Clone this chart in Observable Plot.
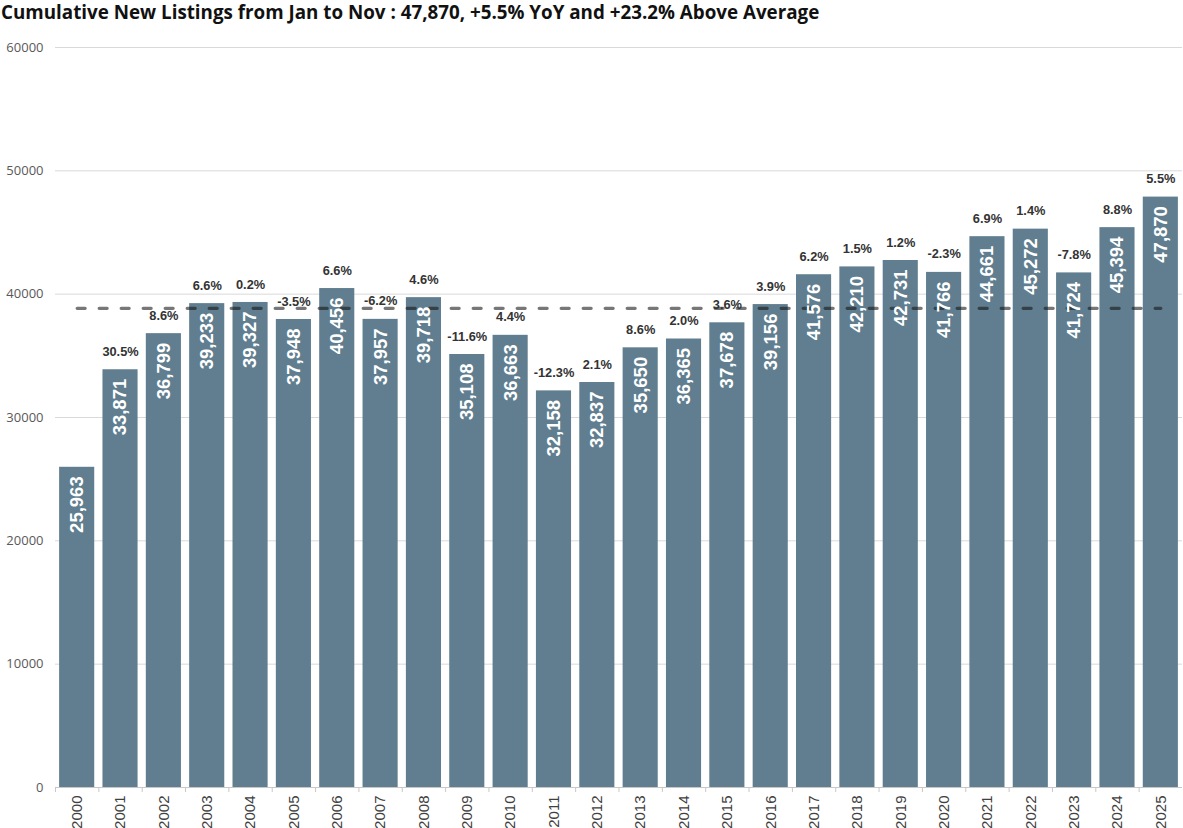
<!DOCTYPE html>
<html>
<head>
<meta charset="utf-8">
<script src="https://cdn.jsdelivr.net/npm/d3@7"></script>
<script src="https://cdn.jsdelivr.net/npm/@observablehq/plot@0.6"></script>
<style>
  html, body { margin: 0; padding: 0; background: #fff; }
  #title { height: 25px; overflow: visible; font-family: "Open Sans", sans-serif; font-weight: 700; font-size: 18.8px; color: #111; line-height: 24px; margin-top: -1px; padding-top: 1px; padding-left: 1px; white-space: nowrap; box-sizing: border-box; }
  #chart svg { display: block; }
</style>
</head>
<body>
<div id="title">Cumulative New Listings from Jan to Nov : 47,870, +5.5% YoY and +23.2% Above Average</div>
<div id="chart"></div>
<script>
const years = ["2000","2001","2002","2003","2004","2005","2006","2007","2008","2009","2010","2011","2012","2013","2014","2015","2016","2017","2018","2019","2020","2021","2022","2023","2024","2025"];
const listings = [25963,33871,36799,39233,39327,37948,40456,37957,39718,35108,36663,32158,32837,35650,36365,37678,39156,41576,42210,42731,41766,44661,45272,41724,45394,47870];
const yoyLabels = [null,"30.5%","8.6%","6.6%","0.2%","-3.5%","6.6%","-6.2%","4.6%","-11.6%","4.4%","-12.3%","2.1%","8.6%","2.0%","3.6%","3.9%","6.2%","1.5%","1.2%","-2.3%","6.9%","1.4%","-7.8%","8.8%","5.5%"];
const yTicks = [0,10000,20000,30000,40000,50000,60000];

const data = years.map((y, i) => ({year: y, value: listings[i], yoy: yoyLabels[i]}));
const average = d3.mean(listings);

const W = 1183, H = 804, ML = 55, MR = 1;
const step = (W - ML - MR) / years.length;
const fmt = d3.format(",");

const chart = Plot.plot({
  width: W,
  height: H,
  marginTop: 23,
  marginBottom: 41,
  marginLeft: ML,
  marginRight: MR,
  x: {type: "band", domain: years, paddingInner: 0.19, paddingOuter: 0.095, round: false, axis: null},
  y: {domain: [0, 60000], label: null, axis: null},
  style: {fontFamily: "Liberation Sans, Arial, sans-serif"},
  marks: [
    Plot.gridY(yTicks.slice(1), {stroke: "#d9d9d9", strokeOpacity: 1}),
    Plot.axisY(yTicks, {tickSize: 0, tickPadding: 12, tickFormat: d => String(d), label: null, fontFamily: "Open Sans", fontSize: 13, fill: "#595959"}),
    Plot.barY(data, {x: "year", y: "value", fill: "#607e8f"}),
    Plot.ruleY([0], {stroke: "#c8c8c8"}),
    Plot.ruleX(years, {x: d => d, dx: -step / 2, y1: 0, y2: 0, insetBottom: -5, stroke: "#c8c8c8"}),
    Plot.lineY(data, {x: "year", y: () => average, stroke: "#141414", strokeOpacity: 0.58, strokeWidth: 3.2, strokeDasharray: "8,14", strokeLinecap: "round"}),
    Plot.text(data, {x: "year", y: "value", text: d => fmt(d.value), rotate: -90, textAnchor: "end", dy: 9, fill: "white", fontWeight: "bold", fontSize: 18.5}),
    Plot.text(data.filter(d => d.yoy), {x: "year", y: "value", text: "yoy", dy: -18, fill: "#333", fontWeight: "bold", fontSize: 12.8, letterSpacing: "0.6px"}),
    Plot.text(years, {x: d => d, y: 0, text: d => d, rotate: -90, textAnchor: "end", dy: 8, fill: "#404040", fontSize: 15})
  ]
});
document.getElementById("chart").appendChild(chart);
</script>
</body>
</html>
